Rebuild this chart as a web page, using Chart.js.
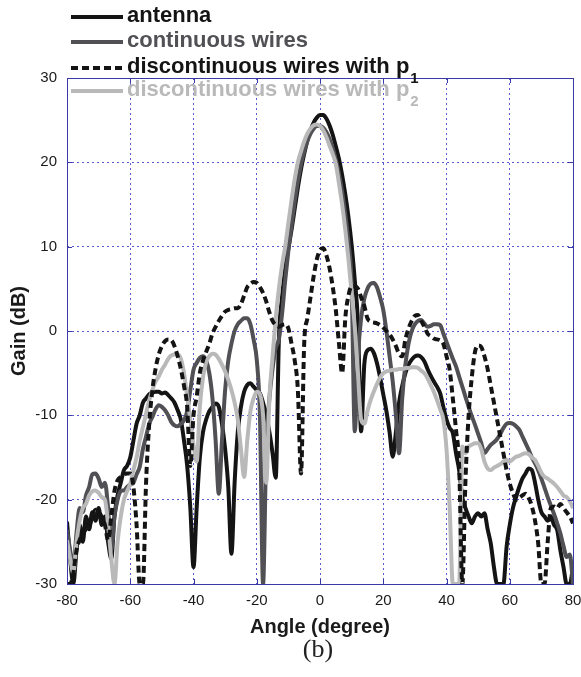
<!DOCTYPE html>
<html>
<head>
<meta charset="utf-8">
<script src="https://cdn.jsdelivr.net/npm/chart.js@4.4.1/dist/chart.umd.min.js"></script>
<style>
html,body{margin:0;padding:0;background:#fff;}
#wrap{position:relative;width:581px;height:677px;overflow:hidden;}
#c{position:absolute;left:0;top:0;}
.row{position:absolute;left:0;height:22px;font-family:"Liberation Sans",Arial,Helvetica,sans-serif;font-weight:bold;font-size:22px;line-height:22px;white-space:nowrap;}
.row .smp{position:absolute;left:71px;width:52px;height:4px;top:11px;}
.row .txt{position:absolute;left:127px;top:0;}
.row sub{font-size:15px;vertical-align:baseline;position:relative;top:10px;margin-left:1px;}
#cap{position:absolute;left:0;width:636px;top:634px;text-align:center;font-family:"Liberation Serif","DejaVu Serif",serif;font-size:26px;color:#222;}
</style>
</head>
<body>
<div id="wrap">
<canvas id="c" width="581" height="677"></canvas>
<div class="row" style="top:4px;color:#141414"><div class="smp" style="background:#141414"></div><span class="txt">antenna</span></div>
<div class="row" style="top:29px;color:#505055"><div class="smp" style="background:#505055"></div><span class="txt">continuous wires</span></div>
<div class="row" style="top:55px;color:#141414"><div class="smp" style="background:repeating-linear-gradient(90deg,#141414 0 7px,transparent 7px 11px)"></div><span class="txt">discontinuous wires with p<sub>1</sub></span></div>
<div class="row" style="top:78px;color:#b9b9b9"><div class="smp" style="background:#b9b9b9"></div><span class="txt">discontinuous wires with p<sub>2</sub></span></div>
<div id="cap">(b)</div>
</div>
<script>
const angles = [
 -80,-79,-78,-77,-76,-75,-74,-73,-72,-71,
 -70,-69,-68,-67,-66,-65,-64,-63,-62,-61,
 -60,-59,-58,-57,-56,-55,-54,-53,-52,-51,
 -50,-49,-48,-47,-46,-45,-44,-43,-42,-41,
 -40,-39,-38,-37,-36,-35,-34,-33,-32,-31,
 -30,-29,-28,-27,-26,-25,-24,-23,-22,-21,
 -20,-19,-18,-17,-16,-15,-14,-13,-12,-11,
 -10,-9,-8,-7,-6,-5,-4,-3,-2,-1,
 0,1,2,3,4,5,6,7,8,9,
 10,11,12,13,14,15,16,17,18,19,
 20,21,22,23,24,25,26,27,28,29,
 30,31,32,33,34,35,36,37,38,39,
 40,41,42,43,44,45,46,47,48,49,
 50,51,52,53,54,55,56,57,58,59,
 60,61,62,63,64,65,66,67,68,69,
 70,71,72,73,74,75,76,77,78,79,
 80
];
const antenna = [
 -22.6,-27,-30,-26,-23,-25,-22,-23.5,-21.5,-22.5,
 -21,-23,-22,-25,-27,-22,-19.5,-18,-16.5,-16,
 -15,-13,-11,-10,-8.5,-8,-7.5,-7.3,-7.2,-7.2,
 -7.4,-7.3,-7.6,-8,-8.5,-9.4,-10.5,-13,-16,-21,
 -28,-21,-15,-12,-10.5,-9.5,-9,-8.6,-9,-11,
 -14,-18.5,-26.4,-18,-12,-9,-7.2,-6.4,-6.2,-6.6,
 -7,-7.4,-8.5,-10,-12,-14.5,-17.4,-1,4,7.5,
 9.8,12,14.5,17,19.2,21,22.6,23.8,24.7,25.3,
 25.6,25.6,25.2,24.4,23.3,21.9,20.4,18.5,16.2,13.5,
 10.2,6,1,-11.9,-4,-2.3,-2.1,-2.6,-3.8,-5.5,
 -7.5,-9.5,-12,-14.9,-12,-8.5,-6.5,-5,-4,-3.4,
 -3,-2.9,-3.1,-3.6,-4.5,-5.3,-6,-6.6,-7.4,-9,
 -10.5,-11.5,-12.1,-14.5,-16.5,-19.7,-21,-22,-22.8,-22,
 -21.6,-22,-21.6,-23.5,-25.2,-28,-30,-30,-30,-25.6,
 -23,-21,-19.7,-18.5,-17.5,-16.9,-16.3,-16.5,-18,-20,
 -21.5,-22,-22.5,-22,-23,-23.6,-26,-28,-30,-30,
 -28
];
const continuousWires = [
 -23.6,-26,-28,-24,-21,-21.5,-19.5,-18.5,-17,-16.9,
 -17.5,-18.5,-18,-21,-26,-22,-20,-19,-18.9,-18.5,
 -18.2,-18,-17,-16.1,-14,-12.5,-11,-10.2,-9.3,-8.8,
 -9,-9.4,-10,-10.8,-11.2,-11.3,-11,-10.6,-9.5,-7,
 -4.6,-3.8,-3.2,-3,-3.5,-5,-8,-13,-19.3,-13,
 -7,-3.5,-1.5,0,0.8,1.2,1.5,1.5,0.8,-1,
 -3.4,-10,-30,-14,-8,-4.5,-2,-1,2,6,
 9.5,12.5,15.3,17.8,19.8,21.3,22.5,23.4,24,24.3,
 24.3,24.1,23.6,22.8,21.7,20.3,18.6,16.5,13.8,10.5,
 5.5,-11.9,-3,1.5,3.8,5,5.6,5.7,5.2,4,
 2.5,0,-3,-6,-10,-14.5,-8,-4,-1.5,0,
 0.8,1.2,1.3,0.9,0.5,0.6,0.8,0.8,0.7,-0.3,
 -1.3,-2.3,-3.3,-4.2,-5.4,-6.6,-7.8,-9,-10.1,-11.1,
 -12.2,-13.3,-14.5,-14,-13.5,-13.2,-12.8,-12.2,-11.5,-11,
 -10.9,-11,-11.3,-11.7,-12.5,-13.3,-14.1,-15,-15.7,-16.5,
 -17.5,-18.6,-19.7,-20.7,-21.7,-22.8,-24,-25.5,-26.8,-26.5,
 -30
];
const discWiresP1 = [
 -30,-30,-28.7,-26,-24.8,-24,-23.5,-23.2,-22,-21.2,
 -21.5,-22,-23,-24.8,-22,-19,-17.7,-17.3,-17,-16.9,
 -16.9,-18.5,-23,-30,-30,-18,-11,-7,-4.5,-2.8,
 -1.8,-1.2,-1,-1.1,-1.8,-3,-4.5,-6.5,-9,-16,
 -10,-7.8,-5,-3.5,-2.5,-1.5,-0.3,0.5,1.2,1.8,
 2.3,2.5,2.6,2.7,2.7,3.2,4.2,5.2,5.6,5.8,
 5.7,5.2,4.5,3.5,2.2,1.2,0.7,0.5,0.7,0.8,
 0.3,-1.5,-3.5,-7,-16.9,-1.5,1.5,4,6.5,8.5,
 9.6,9.8,9,7.5,5.3,2.5,-1.5,-5,1.5,4.2,
 5.3,5.3,5,4,3,1.5,1.1,1,0.9,0.7,
 0.4,0,-0.4,-1,-1.8,-2.7,-3,-1,0.3,1.2,
 1.8,1.9,1.2,0.5,-0.3,-0.6,-0.9,-1,-1.1,-1.5,
 -3,-4.6,-8,-11.7,-16,-30,-17.7,-10,-5.5,-2.5,
 -1.7,-1.9,-3,-4.5,-6.5,-8.5,-10.5,-12.5,-14.5,-16.5,
 -18.1,-19.2,-20,-19.8,-19.5,-19.3,-19.8,-20.8,-22.5,-25.2,
 -30,-30,-25,-21,-20.8,-21,-20.5,-21,-21.5,-22,
 -22.8
];
const discWiresP2 = [
 -24.8,-27,-28.7,-25,-22.5,-21,-20.5,-19.5,-19,-18.9,
 -19.2,-19.7,-20,-23,-27,-30,-25,-22,-20,-19,
 -18.1,-16.5,-15,-13,-11.4,-9.8,-8.2,-7,-6,-5.4,
 -4.6,-4,-3.3,-2.9,-2.8,-2.8,-3.3,-5,-7.8,-10.5,
 -13.5,-15.5,-9,-5.5,-3.7,-3,-2.7,-2.8,-3.3,-4,
 -4.8,-5.8,-7,-8.5,-10.5,-14,-17.3,-13,-9.5,-8,
 -7.2,-7.5,-10,-18,-8,-3,1.5,5,7.8,10,
 12.8,15.5,18,20,21.3,22.5,23.4,24,24.4,24.5,
 24.3,23.8,23,22,21,19.8,17.5,15,12,8.5,
 4.5,0.5,-5,-10.5,-11,-9.5,-8.2,-7.2,-6.3,-5.5,
 -5,-4.8,-4.7,-4.6,-4.6,-4.5,-4.5,-4.4,-4.4,-4.3,
 -4.3,-4.4,-4.7,-5,-5.6,-6.4,-7.2,-8.2,-9.3,-10.5,
 -14,-21,-30,-30,-30,-13.7,-14.5,-13.7,-13.5,-13.3,
 -13.3,-14,-15.5,-16.3,-16.5,-16.2,-16,-15.8,-15.5,-15.3,
 -15.5,-15.2,-14.9,-14.8,-14.6,-14.5,-14.6,-15,-15.3,-16,
 -16.8,-17.3,-17.5,-17.8,-18.1,-18.5,-19,-19.5,-19.7,-20.2,
 -21
];
const xTicks = [-80,-60,-40,-20,0,20,40,60,80];
const yTicks = [-30,-20,-10,0,10,20,30];

const toPts = vals => angles.map((a,i)=>({x:a,y:vals[i]}));

const frameColor = '#3a3aa6';
const framePlugin = {
  id:'frame',
  afterDraw(chart){
    const {ctx, chartArea:a, scales} = chart;
    ctx.save();
    ctx.strokeStyle = frameColor;
    ctx.lineWidth = 1;
    ctx.setLineDash([]);
    const tl = 5;
    ctx.beginPath();
    xTicks.forEach(t=>{
      const x = Math.round(scales.x.getPixelForValue(t))+0.5;
      ctx.moveTo(x,a.bottom); ctx.lineTo(x,a.bottom-tl);
      ctx.moveTo(x,a.top); ctx.lineTo(x,a.top+tl);
    });
    yTicks.forEach(t=>{
      const y = Math.round(scales.y.getPixelForValue(t))+0.5;
      ctx.moveTo(a.left,y); ctx.lineTo(a.left+tl,y);
      ctx.moveTo(a.right,y); ctx.lineTo(a.right-tl,y);
    });
    ctx.stroke();
    ctx.strokeRect(Math.round(a.left)+0.5, Math.round(a.top)+0.5, Math.round(a.right-a.left), Math.round(a.bottom-a.top));
    ctx.restore();
  }
};

const common = {pointRadius:0, borderWidth:4, fill:false, cubicInterpolationMode:'monotone', clip:0};
new Chart(document.getElementById('c'), {
  type:'line',
  data:{
    datasets:[
      {...common, label:'discontinuous wires with p1', data:toPts(discWiresP1), borderColor:'#141414', borderDash:[7,4], order:1},
      {...common, label:'discontinuous wires with p2', data:toPts(discWiresP2), borderColor:'#b9b9b9', order:2},
      {...common, label:'continuous wires', data:toPts(continuousWires), borderColor:'#505055', order:3},
      {...common, label:'antenna', data:toPts(antenna), borderColor:'#141414', order:4}
    ]
  },
  options:{
    responsive:false, animation:false, devicePixelRatio:1,
    layout:{padding:{left:0,right:8,top:78,bottom:35}},
    plugins:{legend:{display:false}, tooltip:{enabled:false}, title:{display:false}},
    scales:{
      x:{
        type:'linear', min:-80, max:80,
        afterBuildTicks(ax){ ax.ticks = xTicks.map(v=>({value:v})); },
        afterFit(ax){ ax.height = 58; ax.paddingLeft = 0; ax.paddingRight = 0; },
        grid:{color:'#5a5ad2', lineWidth:1, drawTicks:false},
        border:{display:false, dash:[2,3]},
        ticks:{padding:8, color:'#1a1a1a', font:{family:'"Liberation Sans", Arial, sans-serif', size:15}, maxRotation:0},
        title:{display:true, text:'Angle (degree)', color:'#1a1a1a', font:{family:'"Liberation Sans", Arial, sans-serif', size:20, weight:'bold'}, padding:{top:0,bottom:3}}
      },
      y:{
        type:'linear', min:-30, max:30,
        afterBuildTicks(ax){ ax.ticks = yTicks.map(v=>({value:v})); },
        afterFit(ax){ ax.width = 67; ax.paddingTop = 0; ax.paddingBottom = 0; },
        grid:{color:'#5a5ad2', lineWidth:1, drawTicks:false},
        border:{display:false, dash:[2,3]},
        ticks:{padding:10, color:'#1a1a1a', font:{family:'"Liberation Sans", Arial, sans-serif', size:15}},
        title:{display:true, text:'Gain (dB)', color:'#1a1a1a', font:{family:'"Liberation Sans", Arial, sans-serif', size:20, weight:'bold'}, padding:{top:7,bottom:0}}
      }
    }
  },
  plugins:[framePlugin]
});
</script>
</body>
</html>
